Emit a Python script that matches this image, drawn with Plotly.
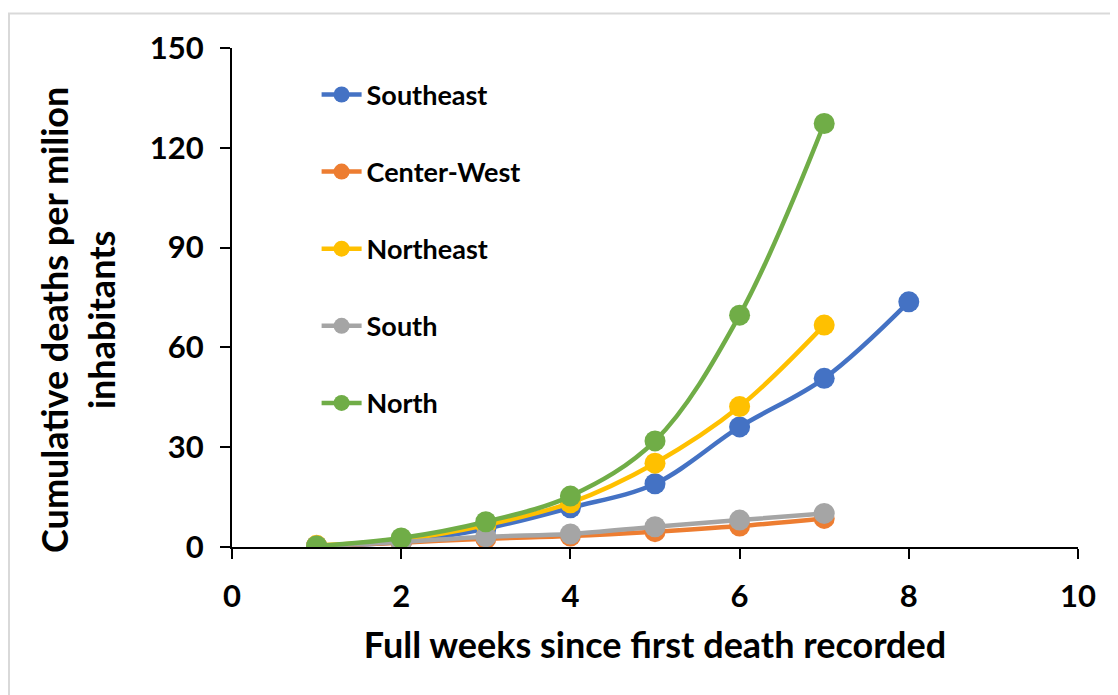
import plotly.graph_objects as go

weeks = [1, 2, 3, 4, 5, 6, 7, 8]
series_names = ["Southeast", "Center-West", "Northeast", "South", "North"]
southeast = [0.3, 1.6, 5.5, 11.8, 19.0, 36.1, 50.7, 73.7]
center_west = [0.3, 1.3, 2.5, 3.3, 4.6, 6.3, 8.6]
northeast = [0.5, 2.2, 6.6, 13.3, 25.2, 42.2, 66.7]
south = [0.3, 1.5, 3.1, 3.9, 6.1, 8.1, 10.1]
north = [0.3, 2.7, 7.6, 15.3, 31.9, 69.7, 127.3]
colors = ["#4472C4", "#ED7D31", "#FFC000", "#A5A5A5", "#70AD47"]
x_ticks = [0, 2, 4, 6, 8, 10]
y_ticks = [0, 30, 60, 90, 120, 150]

FONT = "Lato"
values = [southeast, center_west, northeast, south, north]

fig = go.Figure()
for i, (name, vals, col) in enumerate(zip(series_names, values, colors)):
    fig.add_trace(go.Scatter(
        x=weeks[:len(vals)], y=vals, name=name, mode="lines+markers",
        line=dict(color=col, width=4.5, shape="spline", smoothing=1),
        marker=dict(color=col, size=21),
        legendgroup=f"g{i}",
    ))

axis_common = dict(
    showgrid=False, zeroline=False, showline=True, linecolor="black", linewidth=2,
    ticks="outside", ticklen=10, tickwidth=2, tickcolor="black",
    tickfont=dict(family=FONT, size=31, color="black", weight="bold"),
)
fig.update_xaxes(range=[0, 10], tickvals=x_ticks, ticklabelstandoff=11,
                 title=dict(text="Full weeks since first death recorded",
                            font=dict(family=FONT, size=36, color="black", weight="bold"),
                            standoff=20),
                 **axis_common)
fig.update_yaxes(range=[0, 150], tickvals=y_ticks, ticklabelstandoff=10, **axis_common)

fig.add_annotation(
    text="Cumulative deaths per milion<br>inhabitants", textangle=-90,
    xref="paper", yref="paper", x=-0.182, y=0.455, xanchor="center", yanchor="middle",
    showarrow=False, font=dict(family=FONT, size=36, color="black", weight="bold"),
)

# chart area border (top and left edges visible)
fig.add_shape(type="rect", xref="paper", yref="paper",
              x0=-0.2636, x1=1.2, y0=-0.5, y1=1.069,
              line=dict(color="#D9D9D9", width=2), layer="below")

fig.update_layout(
    width=1118, height=695,
    margin=dict(l=224, r=48, t=40, b=156),
    plot_bgcolor="white", paper_bgcolor="white",
    showlegend=True,
    legend=dict(x=0.1, y=0.955, xanchor="left", yanchor="top",
                traceorder="grouped", tracegroupgap=39,
                font=dict(family=FONT, size=27, color="black", weight="bold"),
                bgcolor="rgba(0,0,0,0)", itemwidth=40),
)

fig.write_html("out.html")
